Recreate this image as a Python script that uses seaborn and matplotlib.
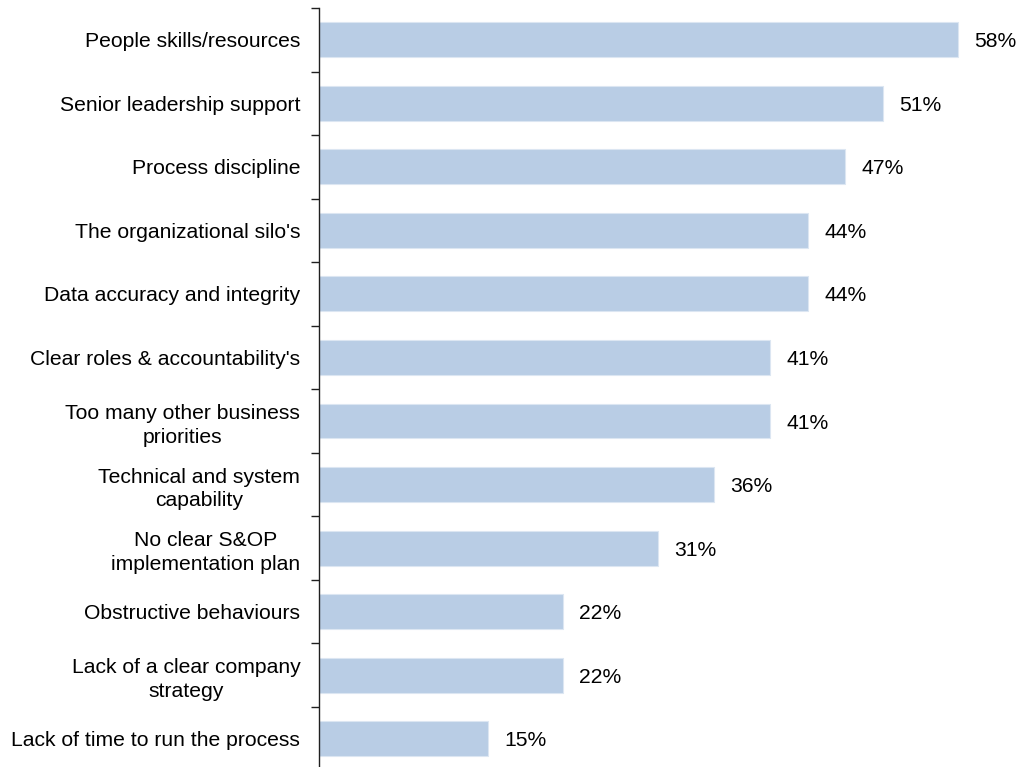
import matplotlib
matplotlib.use("Agg")
import matplotlib.pyplot as plt
import seaborn as sns
import pandas as pd
import numpy as np

categories = [
    "People skills/resources",
    "Senior leadership support",
    "Process discipline",
    "The organizational silo's",
    "Data accuracy and integrity",
    "Clear roles & accountability's",
    "Too many other business\npriorities",
    "Technical and system\ncapability",
    "No clear S&OP\nimplementation plan",
    "Obstructive behaviours",
    "Lack of a clear company\nstrategy",
    "Lack of time to run the process",
]
values = [57.65, 50.9, 47.45, 44.1, 44.1, 40.7, 40.7, 35.6, 30.55, 22.0, 22.0, 15.25]
value_labels = ["58%", "51%", "47%", "44%", "44%", "41%", "41%", "36%", "31%", "22%", "22%", "15%"]

sns.set_theme(style="white")
plt.rcParams["font.family"] = ["Liberation Sans", "DejaVu Sans"]

df = pd.DataFrame({"category": categories, "value": values})

fig = plt.figure(figsize=(10.19, 7.67), dpi=100)
ax = fig.add_axes([319 / 1019, -3.5 / 767, 700 / 1019, 762.5 / 767])

sns.barplot(data=df, x="value", y="category", orient="h", color="#B9CDE5",
            saturation=1, width=0.55, edgecolor="#DCE6F2", linewidth=0.8, ax=ax)

ax.set_xlim(0, 63.12)
ax.set_ylim(len(categories) - 0.5, -0.5)
ax.set_xlabel("")
ax.set_ylabel("")
ax.set_xticks([])

for s in ["top", "right", "bottom"]:
    ax.spines[s].set_visible(False)
ax.spines["left"].set_color("#202020")
ax.spines["left"].set_linewidth(1.0)

ax.set_yticks(np.arange(len(categories)))
ax.set_yticklabels(categories, fontsize=15.25, color="black", multialignment="center",
                   linespacing=1.32)
ax.tick_params(axis="y", which="major", length=0, pad=13.5)
ax.set_yticks(np.arange(-0.5, len(categories), 1.0), minor=True)
ax.tick_params(axis="y", which="minor", length=6, width=1.0, color="#202020", left=True)

for cont in ax.containers:
    anns = ax.bar_label(cont, labels=value_labels, padding=11.5, fontsize=15.25, color="black")
    for t in anns:
        t.set_verticalalignment("center_baseline")

fig.savefig("out.png", dpi=100)
